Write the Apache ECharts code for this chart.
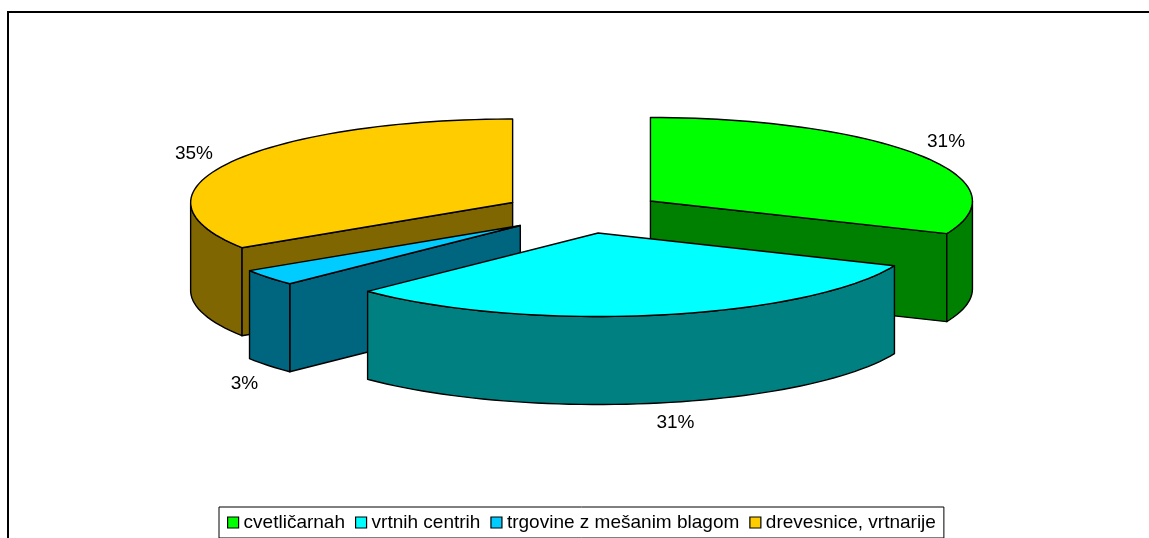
<!DOCTYPE html>
<html>
<head>
<meta charset="utf-8">
<style>
html, body { margin: 0; padding: 0; background: #fff; overflow: hidden; }
#main { width: 1149px; height: 538px; }
</style>
<script src="https://cdn.jsdelivr.net/npm/echarts@6/dist/echarts.min.js"></script>
</head>
<body>
<div id="main"></div>
<script>
var categories = ['cvetličarnah', 'vrtnih centrih', 'trgovine z mešanim blagom', 'drevesnice, vrtnarije'];
var values = [31.4, 31.3, 3.2, 34.1];
var labels = ['31%', '31%', '3%', '35%'];
var topColors = ['#00ff00', '#00ffff', '#00ccff', '#ffcc00'];
var sideColors = ['#008000', '#008080', '#006680', '#806600'];

// pie projection
var cx = 583.3, cy = 212.5, rx = 322, ry = 83.5, depth = 88, explode = 0.25;
var labelNudge = [[27, -13], [18, 20], [-24, 18], [-36, -9]];
var fontFamily = '"Liberation Sans", Arial, sans-serif';

var total = values.reduce(function (a, b) { return a + b; }, 0);
var rad = Math.PI / 180;

var slices = [];
var acc = 0;
values.forEach(function (v, i) {
    var start = acc / total * 360;
    acc += v;
    var end = acc / total * 360;
    var mid = (start + end) / 2;
    slices.push({
        index: i,
        start: start,
        end: end,
        mid: mid,
        x: cx + explode * rx * Math.sin(mid * rad),
        y: cy - explode * ry * Math.cos(mid * rad)
    });
});

function rimPoint(s, deg, dy) {
    return [s.x + rx * Math.sin(deg * rad), s.y - ry * Math.cos(deg * rad) + dy];
}

function arcPoints(s, a, b, dy) {
    var pts = [];
    for (var d = a; d < b; d += 2) {
        pts.push(rimPoint(s, d, dy));
    }
    pts.push(rimPoint(s, b, dy));
    return pts;
}

function cutFace(s, deg) {
    var p = rimPoint(s, deg, 0);
    return [[s.x, s.y], p, [p[0], p[1] + depth], [s.x, s.y + depth]];
}

function polygon(points, fill) {
    return {
        type: 'polygon',
        shape: { points: points },
        style: { fill: fill, stroke: '#000', lineWidth: 1.4, lineJoin: 'round' }
    };
}

function renderSlice(s) {
    return function () {
        var side = sideColors[s.index];
        var children = [];
        // cut faces first, the rim and the top go over them
        if (-Math.cos((s.start - 90) * rad) > 0.001) {
            children.push(polygon(cutFace(s, s.start), side));
        }
        if (-Math.cos((s.end + 90) * rad) > 0.001) {
            children.push(polygon(cutFace(s, s.end), side));
        }
        var a = Math.max(s.start, 90), b = Math.min(s.end, 270);
        if (a < b) {
            children.push(polygon(arcPoints(s, a, b, 0).concat(arcPoints(s, a, b, depth).reverse()), side));
        }
        var top = [[s.x, s.y]].concat(arcPoints(s, s.start, s.end, 0));
        children.push(polygon(top, topColors[s.index]));

        var front = s.mid > 90 && s.mid < 270;
        var anchor = rimPoint(s, s.mid, front ? depth : 0);
        children.push({
            type: 'text',
            style: {
                text: labels[s.index],
                x: anchor[0] + labelNudge[s.index][0],
                y: anchor[1] + labelNudge[s.index][1],
                fill: '#000',
                font: '19px ' + fontFamily,
                align: 'center',
                verticalAlign: 'middle'
            }
        });
        return { type: 'group', children: children };
    };
}

// back pieces first
var drawOrder = slices.slice().sort(function (a, b) { return a.y - b.y; });

var mychart = echarts.init(document.getElementById('main'));
mychart.setOption({
    animation: false,
    backgroundColor: '#fff',
    graphic: [{
        type: 'rect',
        silent: true,
        z: -1,
        shape: { x: 8, y: 12, width: 1300, height: 700 },
        style: { fill: 'none', stroke: '#000', lineWidth: 2 }
    }],
    legend: {
        left: 219,
        top: 507,
        orient: 'horizontal',
        backgroundColor: '#fff',
        borderColor: '#000',
        borderWidth: 1,
        borderRadius: 0,
        padding: [6, 8, 6, 8],
        itemGap: 10,
        itemWidth: 11,
        itemHeight: 11,
        selectedMode: false,
        textStyle: { color: '#000', fontFamily: fontFamily, fontSize: 19 },
        data: categories.map(function (name, i) {
            return {
                name: name,
                icon: 'rect',
                itemStyle: { color: topColors[i], borderColor: '#000', borderWidth: 1.2 }
            };
        })
    },
    series: drawOrder.map(function (s, order) {
        return {
            type: 'custom',
            name: categories[s.index],
            coordinateSystem: 'none',
            z: 2 + order,
            silent: true,
            itemStyle: { color: topColors[s.index] },
            data: [values[s.index]],
            renderItem: renderSlice(s)
        };
    })
});
</script>
</body>
</html>
